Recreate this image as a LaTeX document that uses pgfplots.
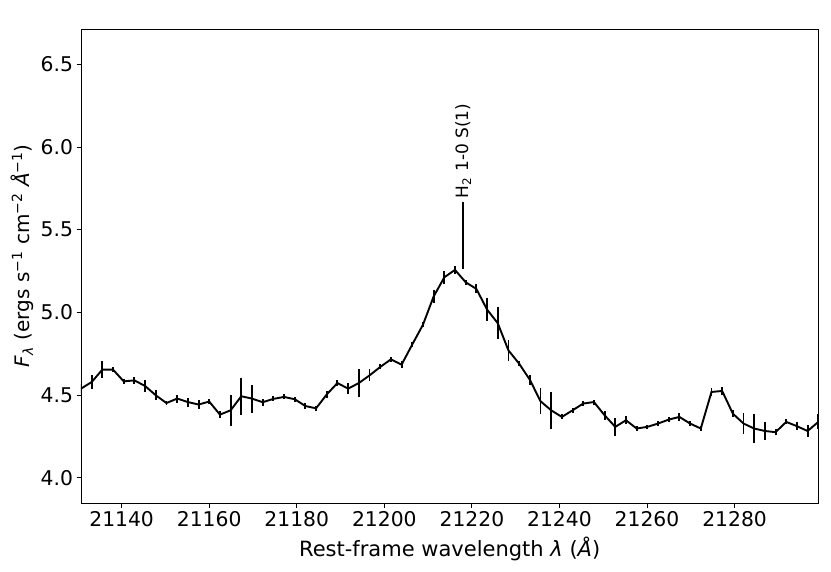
\documentclass[border=0pt]{standalone}
\usepackage{fontspec}
\setmainfont{DejaVu Sans}
\usepackage{pgfplots}
\pgfplotsset{compat=1.18}
\begin{document}
\begin{tikzpicture}
\useasboundingbox (-81pt,-68.7pt) rectangle (750pt,503.3pt);
\begin{axis}[at={(0,0)},anchor=south west,scale only axis,width=737.4pt,height=474.3pt,
  xmin=21130.72,xmax=21299.14,ymin=3.846,ymax=6.713,
  xtick={21140,21160,21180,21200,21220,21240,21260,21280},ytick={4.0,4.5,5.0,5.5,6.0,6.5},
  scaled x ticks=false,scaled y ticks=false,
  xticklabel style={/pgf/number format/.cd,fixed,precision=0,1000 sep={}},
  yticklabel style={/pgf/number format/.cd,fixed,fixed zerofill,precision=1},
  /pgf/number format/assume math mode=true,
  tick label style={font=\fontsize{20.3}{24}\selectfont},
  label style={font=\fontsize{20}{24}\selectfont},
  tick align=outside,tick pos=left,major tick length=4.5pt,
  tick style={black,line width=0.8pt},axis line style={black,line width=0.8pt},
  xlabel={Rest-frame wavelength \textit{λ} (\textit{Å})},
  xlabel style={font=\fontsize{21}{24}\selectfont,yshift=-3pt},
  ylabel style={at={(ticklabel cs:0.522)}},
  ylabel={\textit{F}\textsubscript{\textit{λ}} (ergs s\textsuperscript{−1} cm\textsuperscript{−2} \textit{Å}\textsuperscript{−1})}]
\addplot[black,line width=1.9pt,mark=none,
  error bars/.cd,y dir=both,y explicit,error mark=none,
  error bar style={black,line width=1.9pt}] coordinates {
(21130.72,4.539) +- (0,0.030)
(21133.16,4.579) +- (0,0.045)
(21135.60,4.654) +- (0,0.053)
(21138.04,4.654) +- (0,0.013)
(21140.48,4.583) +- (0,0.016)
(21142.92,4.589) +- (0,0.022)
(21145.36,4.555) +- (0,0.037)
(21147.80,4.499) +- (0,0.030)
(21150.24,4.452) +- (0,0.012)
(21152.69,4.479) +- (0,0.024)
(21155.13,4.458) +- (0,0.027)
(21157.57,4.443) +- (0,0.027)
(21160.01,4.461) +- (0,0.016)
(21162.45,4.382) +- (0,0.020)
(21164.89,4.408) +- (0,0.095)
(21167.33,4.493) +- (0,0.113)
(21169.77,4.479) +- (0,0.085)
(21172.21,4.457) +- (0,0.020)
(21174.65,4.477) +- (0,0.015)
(21177.09,4.489) +- (0,0.015)
(21179.53,4.475) +- (0,0.015)
(21181.97,4.434) +- (0,0.016)
(21184.41,4.420) +- (0,0.016)
(21186.85,4.504) +- (0,0.020)
(21189.29,4.573) +- (0,0.020)
(21191.74,4.539) +- (0,0.035)
(21194.18,4.573) +- (0,0.087)
(21196.62,4.619) +- (0,0.036)
(21199.06,4.670) +- (0,0.015)
(21201.50,4.716) +- (0,0.015)
(21203.94,4.684) +- (0,0.022)
(21206.38,4.806) +- (0,0.015)
(21208.82,4.925) +- (0,0.015)
(21211.26,5.096) +- (0,0.040)
(21213.70,5.212) +- (0,0.040)
(21216.14,5.257) +- (0,0.025)
(21218.58,5.182) +- (0,0.015)
(21221.02,5.142) +- (0,0.027)
(21223.46,5.017) +- (0,0.068)
(21225.90,4.935) +- (0,0.098)
(21228.35,4.770) +- (0,0.062)
(21230.79,4.690) +- (0,0.015)
(21233.23,4.593) +- (0,0.030)
(21235.67,4.463) +- (0,0.080)
(21238.11,4.408) +- (0,0.110)
(21240.55,4.368) +- (0,0.015)
(21242.99,4.408) +- (0,0.015)
(21245.43,4.449) +- (0,0.015)
(21247.87,4.458) +- (0,0.015)
(21250.31,4.378) +- (0,0.028)
(21252.75,4.308) +- (0,0.056)
(21255.19,4.348) +- (0,0.025)
(21257.63,4.298) +- (0,0.015)
(21260.07,4.308) +- (0,0.012)
(21262.51,4.328) +- (0,0.015)
(21264.96,4.352) +- (0,0.015)
(21267.40,4.368) +- (0,0.024)
(21269.84,4.328) +- (0,0.015)
(21272.28,4.298) +- (0,0.015)
(21274.72,4.519) +- (0,0.022)
(21277.16,4.525) +- (0,0.022)
(21279.60,4.388) +- (0,0.022)
(21282.04,4.328) +- (0,0.064)
(21284.48,4.298) +- (0,0.086)
(21286.92,4.283) +- (0,0.052)
(21289.36,4.276) +- (0,0.020)
(21291.80,4.338) +- (0,0.015)
(21294.24,4.312) +- (0,0.024)
(21296.68,4.283) +- (0,0.036)
(21299.12,4.338) +- (0,0.045)
};
% H2 1-0 S(1) marker
\draw[black,line width=1.3pt] (axis cs:21218,5.265) -- (axis cs:21218,5.665);
\node[rotate=90,anchor=west,inner sep=0pt,font=\fontsize{17}{20}\selectfont]
  at (axis cs:21218,5.69) {H\textsubscript{2} 1-0 S(1)};
\node[anchor=base west,inner sep=0pt,font=\fontsize{20.3}{24}\selectfont]
  at ([yshift=4pt]rel axis cs:0,1) {1e−15};
\end{axis}
\end{tikzpicture}
\end{document}
